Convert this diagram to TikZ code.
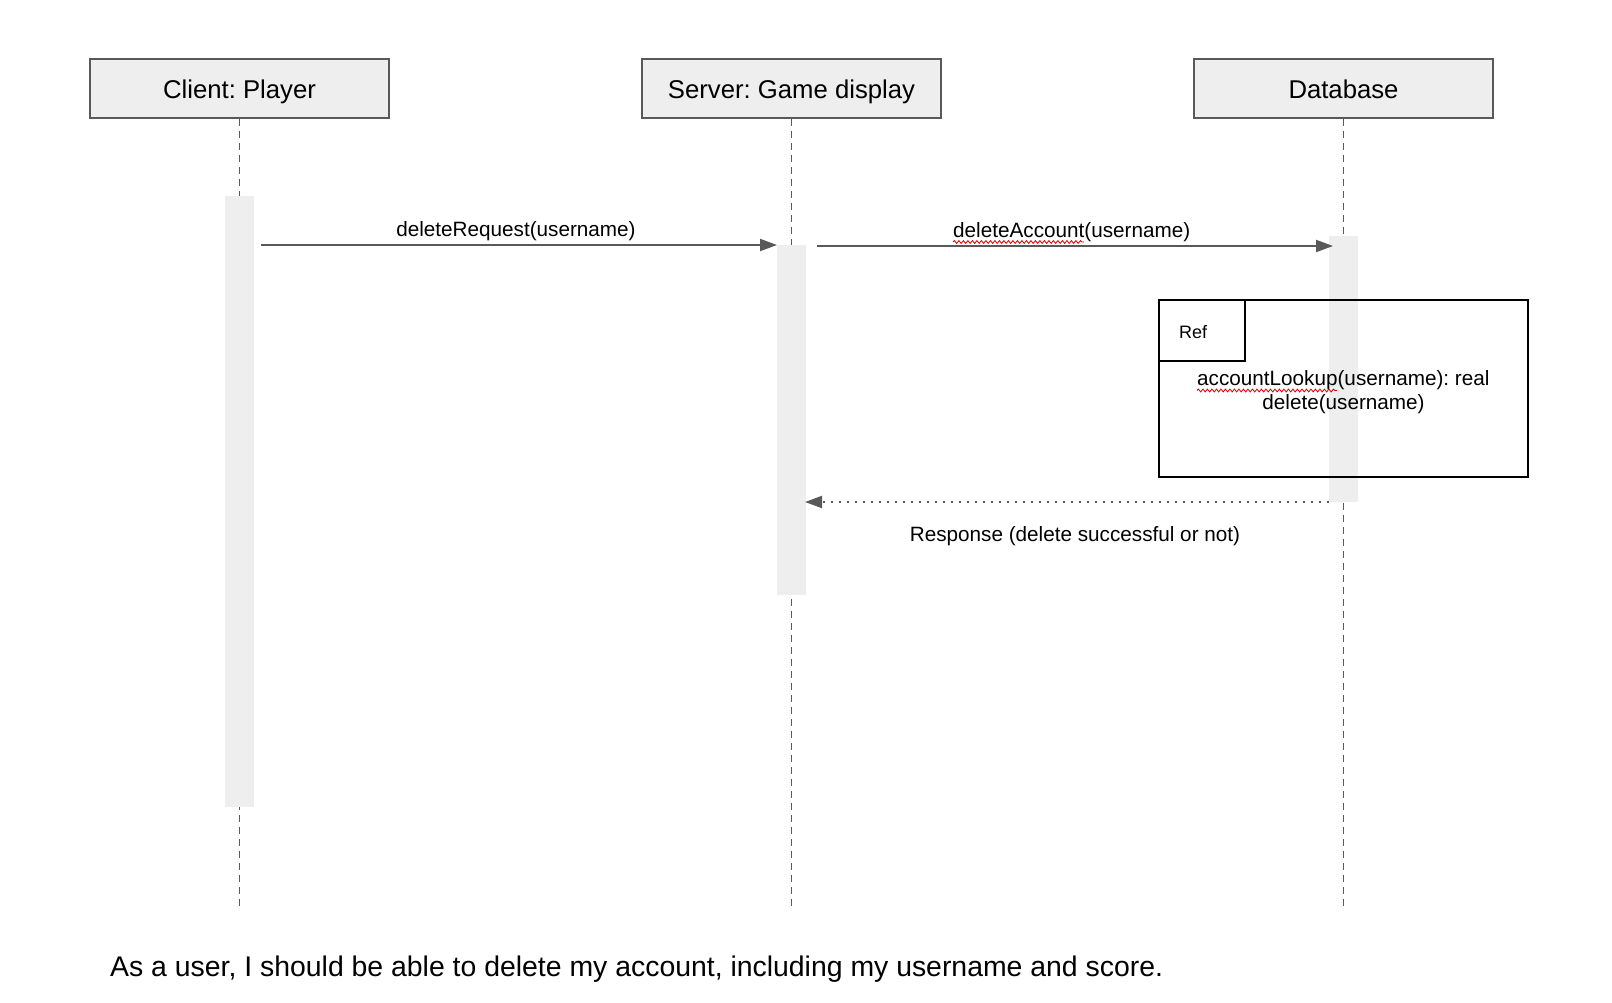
\documentclass[tikz,border=0pt]{standalone}
\usepackage{fontspec}
\setmainfont{Liberation Sans}
\usetikzlibrary{arrows.meta,decorations.pathmorphing}
\definecolor{lg}{HTML}{EEEEEE}
\definecolor{dg}{HTML}{595959}
\tikzset{
  head/.style={draw=dg, line width=2pt, fill=lg, minimum width=299pt, minimum height=59pt, inner sep=0pt, text height=24.5pt, text depth=5.4pt, font=\fontsize{25.7}{30}\selectfont},
  lifeline/.style={draw=dg, line width=1.6pt, dash pattern=on 7pt off 5pt},
  actbar/.style={fill=lg, draw=none, minimum width=29pt, inner sep=0pt},
  msg/.style={draw=dg, line width=2pt, -{Triangle[length=17pt,width=12pt]}},
  resp/.style={draw=dg, line width=2pt, dash pattern=on 2pt off 6pt, -{Triangle[length=17pt,width=12pt]}},
  lbl/.style={inner sep=0pt, font=\fontsize{20.7}{24}\selectfont},
  refbox/.style={draw=black, line width=2pt, inner sep=0pt},
  squig/.style={draw=red!85!black, line width=0.8pt, decorate, decoration={snake, amplitude=1.4pt, segment length=4.5pt}}
}
\begin{document}
\frenchspacing
\begin{tikzpicture}[x=1pt,y=-1pt]
\useasboundingbox (0,0) rectangle (1612,1002);
\fill[white] (0,0) rectangle (1612,1002);

% heads
\node[head] (client) at (239.5,88.5) {Client: Player};
\node[head] (server) at (791.5,88.5) {Server: Game display};
\node[head] (db) at (1343.5,88.5) {Database};

% lifelines
\coordinate (cend) at (239.5,908);
\coordinate (send) at (791.5,908);
\coordinate (dend) at (1343.5,908);
\draw[lifeline] (client.south) -- (cend);
\draw[lifeline] (server.south) -- (send);
\draw[lifeline] (db.south) -- (dend);

% activation bars
\node[actbar, minimum height=611pt] (cbar) at (239.5,501.5) {};
\node[actbar, minimum height=350pt] (sbar) at (791.5,420) {};
\node[actbar, minimum height=266pt] (dbar) at (1343.5,369) {};

% ref frame
\node[refbox, minimum width=369pt, minimum height=177pt] (ref) at (1343.5,388.5) {};
\node[refbox, anchor=north west, minimum width=86pt, minimum height=61pt] (tab) at (ref.north west) {};
\node[inner sep=0pt, font=\fontsize{18}{21}\selectfont] (reflbl) at (1193,332) {Ref};
\node[lbl, anchor=base west] (al) at (1197,385.5) {accountLookup(username): real};
\draw[squig] ([yshift=-5pt]al.base west) -- ++(140,0);
\node[lbl, anchor=base] (dl) at (1343.5,409) {delete(username)};

% messages
\coordinate (m1s) at (261,245);
\coordinate (m1e) at (777,245);
\draw[msg] (m1s) -- (m1e);
\node[lbl, anchor=base] (l1) at (516,236) {deleteRequest(username)};

\coordinate (m2s) at (817,246);
\coordinate (m2e) at (1333,246);
\draw[msg] (m2s) -- (m2e);
\node[lbl, anchor=base west] (l2) at (953,237) {deleteAccount(username)};
\draw[squig] ([yshift=-5pt]l2.base west) -- ++(131,0);

\coordinate (r1s) at (1329,502);
\coordinate (r1e) at (805,502);
\draw[resp] (r1s) -- (r1e);
\node[lbl, anchor=base] (l3) at (1075,541) {Response (delete successful or not)};

% story
\node[inner sep=0pt, anchor=base west, font=\fontsize{28.4}{34}\selectfont] (story) at (110,976) {As a user, I should be able to delete my account, including my username and score.};
\end{tikzpicture}
\end{document}
